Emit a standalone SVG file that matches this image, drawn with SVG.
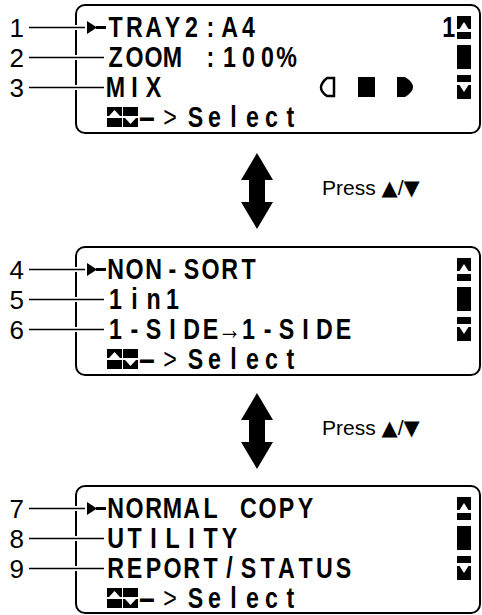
<svg xmlns="http://www.w3.org/2000/svg" width="482" height="615" viewBox="0 0 482 615">
<style>
.box{fill:#fff;stroke:#000;stroke-width:2}
.lcd{font-family:"Liberation Sans",Arial,sans-serif;font-weight:bold;font-size:29px;text-anchor:middle;fill:#000}
.num{font-family:"Liberation Sans",Arial,sans-serif;font-size:26px;text-anchor:end;fill:#000}
.press{font-family:"Liberation Sans",Arial,sans-serif;font-size:21px;fill:#000}
.tri{font-family:"DejaVu Sans",sans-serif;font-size:21px}
.lead{stroke:#000;stroke-width:1.3;fill:none}
.gap{stroke:#fff;stroke-width:5;fill:none}
.wh{fill:#fff}
</style>
<defs>
<g id="scroll">
<rect x="457" y="11" width="14" height="13"/>
<polygon class="wh" points="459.5,24 464,17 468.5,24"/>
<rect x="457" y="27" width="14" height="7"/>
<rect x="457" y="40" width="14" height="24"/>
<rect x="457" y="70" width="14" height="7"/>
<rect x="457" y="80" width="14" height="14"/>
<polygon class="wh" points="459.5,80 464,87 468.5,80"/>
</g>
<g id="keys">
<rect x="107" y="102" width="15" height="9"/>
<polygon class="wh" points="109,111 114.5,105 120,111"/>
<rect x="107" y="113" width="15" height="9"/>
<rect x="123" y="102" width="15" height="9"/>
<rect x="123" y="113" width="15" height="9"/>
<polygon class="wh" points="125,113 130.5,119 136,113"/>
</g>
<g id="cursor">
<polygon points="87,16 97,22.5 87,29"/>
<rect x="96" y="21" width="10" height="3"/>
</g>
<g id="select">
<text class="lcd" transform="translate(147,0) scale(1.9,1)" x="0" y="122">-</text>
<g transform="scale(0.8,1)">
<text class="lcd" x="212.5" y="122" style="font-weight:normal">&gt;</text>
<text class="lcd" x="244.4 268.1 291.9 315.6 339.4 363.1" y="122">Select</text>
</g>
</g>
</defs>

<g id="screen1">
<rect class="box" x="76" y="5" width="404" height="128" rx="9"/>
<use href="#cursor" transform="translate(0,5)"/>
<g transform="scale(0.8,1)">
<text class="lcd" x="144.4 168.1 191.9 215.6 239.4 263.1 286.9 310.6" y="37">TRAY2:A4</text>
<text class="lcd" x="144.4 168.1 191.9 215.6 239.4 263.1 286.9 310.6 334.4 358.1" y="67">ZOOM :100%</text>
<text class="lcd" x="144.4 168.1 191.9" y="97">MIX</text>
<text class="lcd" x="561" y="37">1</text>
</g>
<path d="M334,78 L327,78 Q321,83 321,87.5 Q321,92 327,96 L334,96 Z" fill="#fff" stroke="#000" stroke-width="2.5"/>
<rect x="358" y="77" width="17" height="20"/>
<path d="M397,77 L405,77 Q413,82 413,87 Q413,92 405,97 L397,97 Z"/>
<use href="#scroll" transform="translate(0,5)"/>
<use href="#keys" transform="translate(0,5)"/>
<use href="#select" transform="translate(0,5)"/>
</g>

<g id="screen2">
<rect class="box" x="76" y="247" width="404" height="128" rx="9"/>
<use href="#cursor" transform="translate(0,247)"/>
<g transform="scale(0.8,1)">
<text class="lcd" x="144.4 168.1 191.9 215.6 239.4 263.1 286.9 310.6" y="279">NON-SORT</text>
<text class="lcd" x="144.4 168.1 191.9 215.6" y="309">1in1</text>
<text class="lcd" x="144.4 168.1 191.9 215.6 239.4 263.1 286.9 310.6 334.4 358.1 381.9 405.6 429.4" y="339">1-SIDE→1-SIDE</text>
</g>
<use href="#scroll" transform="translate(0,247)"/>
<use href="#keys" transform="translate(0,247)"/>
<use href="#select" transform="translate(0,247)"/>
</g>

<g id="screen3">
<rect class="box" x="76" y="486" width="404" height="127" rx="9"/>
<use href="#cursor" transform="translate(0,486)"/>
<g transform="scale(0.8,1)">
<text class="lcd" x="144.4 168.1 191.9 215.6 239.4 263.1 286.9 310.6 334.4 358.1 381.9" y="518">NORMAL COPY</text>
<text class="lcd" x="144.4 168.1 191.9 215.6 239.4 263.1 286.9" y="548">UTILITY</text>
<text class="lcd" x="144.4 168.1 191.9 215.6 239.4 263.1 286.9 310.6 334.4 358.1 381.9 405.6 429.4" y="578">REPORT/STATUS</text>
</g>
<use href="#scroll" transform="translate(0,486)"/>
<use href="#keys" transform="translate(0,486)"/>
<use href="#select" transform="translate(0,486)"/>
</g>

<g id="labels">
<text class="num" x="24" y="37">1</text>
<text class="num" x="24" y="67">2</text>
<text class="num" x="24" y="97">3</text>
<text class="num" x="24" y="279">4</text>
<text class="num" x="24" y="309">5</text>
<text class="num" x="24" y="339">6</text>
<text class="num" x="24" y="518">7</text>
<text class="num" x="24" y="548">8</text>
<text class="num" x="24" y="578">9</text>
<text class="press" x="322" y="195">Press <tspan class="tri">▲</tspan>/<tspan class="tri">▼</tspan></text>
<text class="press" x="322" y="435">Press <tspan class="tri">▲</tspan>/<tspan class="tri">▼</tspan></text>
</g>

<g id="connectors">
<path class="gap" d="M72,27.5H80M72,57.5H80M72,87.5H80M72,269.5H80M72,299.5H80M72,329.5H80M72,508.5H80M72,538.5H80M72,568.5H80"/>
<path class="lead" d="M29,27.5H85M29,57.5H104M29,87.5H104M29,269.5H85M29,299.5H104M29,329.5H104M29,508.5H85M29,538.5H104M29,568.5H104"/>
<polygon points="257,153 241,180 249,180 249,202 241,202 257,229 273,202 265,202 265,180 273,180"/>
<polygon points="257,393 241,420 249,420 249,442 241,442 257,469 273,442 265,442 265,420 273,420"/>
</g>
</svg>
